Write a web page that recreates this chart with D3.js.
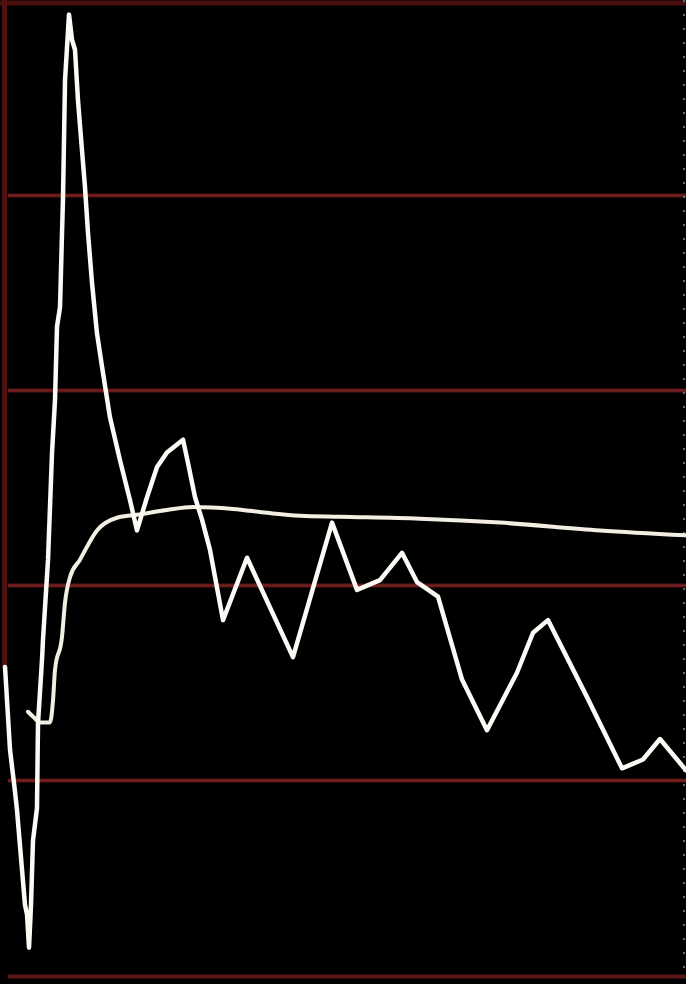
<!DOCTYPE html>
<html>
<head>
<meta charset="utf-8">
<script src="https://cdn.jsdelivr.net/npm/d3@7"></script>
<style>
html,body{margin:0;padding:0;background:#000;}
svg{display:block;}
</style>
</head>
<body>
<svg id="chart" width="686" height="984"></svg>
<script>
// Data (x in 0-100 time units, y in 0-100 value units)
const spikeX = [0.73,1.46,2.19,2.48,3.21,3.64,3.94,4.23,4.52,4.81,5.39,5.54,6.12,6.27,7.0,7.58,8.02,8.31,8.75,9.04,9.18,9.48,10.06,10.5,10.93,11.37,11.95,12.39,12.83,13.41,14.14,14.87,16.03,17.49,18.95,19.97,21.43,22.89,24.34,26.68,27.41,28.43,29.45,30.61,32.51,36.01,42.71,48.4,52.04,55.39,58.6,60.79,63.85,67.35,70.99,75.36,77.7,79.88,85.57,90.67,93.73,96.21,100];
const spikeY = [31.6,23.1,18.8,16.9,10.8,7.2,6.2,2.8,7.2,13.8,17.1,25.8,32.3,34.4,42.6,53.5,59.0,66.5,68.5,76.1,79.5,91.8,98.5,95.9,94.9,89.7,84.6,80.8,76.1,71.0,65.8,62.4,57.2,52.8,48.7,45.6,49.0,52.1,53.6,54.9,52.5,49.0,46.7,43.6,36.4,42.8,32.6,46.4,39.5,40.5,43.3,40.3,38.8,30.3,25.1,31.0,35.1,36.4,28.5,21.2,22.1,24.2,21.0];
const smoothX = [4.08,4.96,5.83,7.29,7.73,8.02,9.04,9.48,10.2,11.66,14.14,17.06,19.97,24.34,28.13,33.97,38.92,43.73,49.56,61.22,72.89,87.46,100];
const smoothY = [27.0,26.4,25.9,25.9,28.2,31.3,34.7,38.2,40.8,42.6,45.6,46.9,47.2,47.7,48.0,47.8,47.4,47.1,47.0,46.8,46.4,45.6,45.1];
const gridTicks = [20,40,60,80];

const W = 686, H = 984;
const svg = d3.select("#chart");
const x = d3.scaleLinear().domain([0,100]).range([0,686]);
const y = d3.scaleLinear().domain([0,100]).range([975,0]);

svg.append("rect").attr("width",W).attr("height",H).attr("fill","#000");

// grid lines via axis
const gridAxis = d3.axisLeft(y).tickValues(gridTicks).tickSize(-(W-8)).tickFormat("");
const g = svg.append("g").attr("transform","translate(8,0)").call(gridAxis);
g.select(".domain").remove();
g.selectAll(".tick line").attr("stroke","#5c1716").attr("stroke-width",4);
g.selectAll(".tick").append("line").attr("x2",W-8).attr("stroke","#73201e").attr("stroke-width",1.5);

// frame: top, bottom, left
svg.append("line").attr("x1",0).attr("x2",W).attr("y1",3).attr("y2",3)
  .attr("stroke","#4a1010").attr("stroke-width",5);
svg.append("line").attr("x1",8).attr("x2",W).attr("y1",y(0)+1.5).attr("y2",y(0)+1.5)
  .attr("stroke","#5a1616").attr("stroke-width",4);
svg.append("line").attr("x1",4.5).attr("x2",4.5).attr("y1",0).attr("y2",y(spikeY[0]))
  .attr("stroke","#4e1212").attr("stroke-width",5);
// faint dotted right edge
svg.append("line").attr("x1",684).attr("x2",684).attr("y1",0).attr("y2",975)
  .attr("stroke","#6a6a6a").attr("stroke-width",2).attr("stroke-dasharray","2,12");

const line = d3.line().x(d=>x(d[0])).y(d=>y(d[1]));
const smoothLine = d3.line().x(d=>x(d[0])).y(d=>y(d[1])).curve(d3.curveMonotoneX);

const spike = spikeX.map((v,i)=>[v,spikeY[i]]);
const smooth = smoothX.map((v,i)=>[v,smoothY[i]]);

svg.append("path").datum(smooth).attr("d",smoothLine)
  .attr("fill","none").attr("stroke","#f2eee2").attr("stroke-width",4)
  .attr("stroke-linejoin","round").attr("stroke-linecap","round");
svg.append("path").datum(spike).attr("d",line)
  .attr("fill","none").attr("stroke","#fbfaf5").attr("stroke-width",4.5)
  .attr("stroke-linejoin","round").attr("stroke-linecap","round");
</script>
</body>
</html>
